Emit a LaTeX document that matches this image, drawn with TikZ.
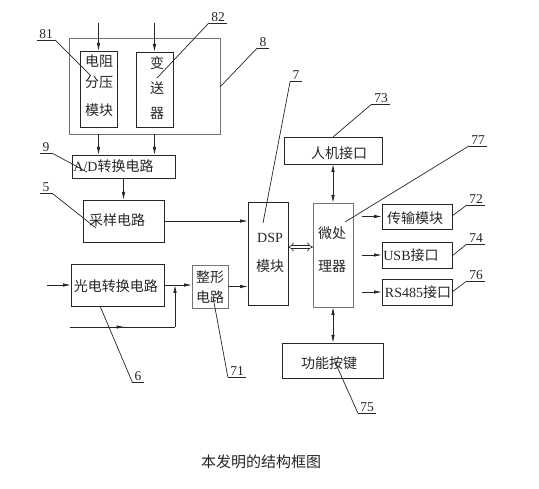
\documentclass[tikz,border=0pt]{standalone}
\usepackage{fontspec}
\setmainfont{Liberation Serif}
\newfontfamily\cjk{Noto Sans CJK SC}
\newfontfamily\lat{Liberation Serif}
\usetikzlibrary{arrows.meta,decorations.markings}
\begin{document}
\begin{tikzpicture}[x=1pt,y=-1pt,line width=0.8pt,color=black!85,
  box/.style={draw,rectangle,inner sep=0pt,outer sep=0pt},
  gbox/.style={box,draw=black!55},
  txt/.style={font=\cjk\fontsize{14}{17}\selectfont,inner sep=0pt,align=center},
  lab/.style={font=\lat\fontsize{13.5}{14}\selectfont,inner xsep=2pt,inner ysep=1pt,anchor=south},
  arr/.style={-{Latex[length=8pt,width=3.5pt]}},
  biarr/.style={{Latex[length=8pt,width=3.5pt]}-{Latex[length=8pt,width=3.5pt]}},
  dbl/.style={double,double distance=2.5pt,line width=0.6pt,{Implies}-{Implies}},
  lead/.style={line width=0.7pt}]
\useasboundingbox (0,0) rectangle (539,489);

% boxes
\node[gbox,minimum width=151pt,minimum height=96pt] (b8) at (144.5,86) {};
\node[box,minimum width=37pt,minimum height=76pt] (b81) at (98.5,89) {};
\node[box,minimum width=37pt,minimum height=75pt] (b82) at (154.5,89.5) {};
\node[box,minimum width=103pt,minimum height=23pt] (ad) at (123.5,166.5) {};
\node[box,minimum width=81pt,minimum height=42pt] (cy) at (123.5,221) {};
\node[box,minimum width=93pt,minimum height=42pt] (gd) at (117.5,285) {};
\node[gbox,minimum width=36pt,minimum height=43pt] (zx) at (210,286.5) {};
\node[box,minimum width=40pt,minimum height=103pt] (dsp) at (268,253.5) {};
\node[gbox,minimum width=40pt,minimum height=104pt] (mcu) at (333,255) {};
\node[box,minimum width=98pt,minimum height=27pt] (hmi) at (333,150.5) {};
\node[box,minimum width=101pt,minimum height=35pt] (key) at (332.5,360.5) {};
\node[box,minimum width=70pt,minimum height=25pt] (tx) at (417,216.5) {};
\node[box,minimum width=70pt,minimum height=26pt] (usb) at (417,255) {};
\node[box,minimum width=70pt,minimum height=26pt] (rs) at (417,292) {};

% texts
\node[txt] (t81) at (99,85.5) {电阻\\[4pt]分压\\[11pt]模块};
\node[txt] (t82) at (157,88) {变\\[8pt]送\\[8pt]器};
\node[txt] (tad) at (113.5,166) {{\lat A/D}转换电路};
\node[txt] (tcy) at (117,220) {采样电路};
\node[txt] (tgd) at (116,286) {光电转换电路};
\node[txt] (tzx) at (210,287) {整形\\[3pt]电路};
\node[txt] (tdsp) at (270,252.5) {{\lat DSP}\\[12pt]模块};
\node[txt] (tmcu) at (332,249.5) {微处\\[16pt]理器};
\node[txt] (thmi) at (339,153) {人机接口};
\node[txt] (tkey) at (329,363) {功能按键};
\node[txt] (ttx) at (415,218) {传输模块};
\node[txt] (tusb) at (411,255) {{\lat USB}接口};
\node[txt] (trs) at (418,292) {{\lat RS485}接口};
\node[font=\cjk\fontsize{15}{17}\selectfont,inner sep=0pt] (cap) at (261,462) {本发明的结构框图};

% connectors
\coordinate (i81) at (98.5,23);
\coordinate (i82) at (154.5,23);
\draw[arr] (i81) -- (b81.north);
\draw[arr] (i82) -- (b82.north);
\draw[arr] (b8.south -| b81) -- (ad.north -| b81);
\draw[arr] (b8.south -| b82) -- (ad.north -| b82);
\draw[arr] (ad.south) -- (cy.north);
\draw[arr] (cy.east) -- (cy.east -| dsp.west);
\coordinate (in6) at (47,285);
\draw[arr] (in6) -- (gd.west);
\draw[arr] (gd.east) -- (gd.east -| zx.west);
\coordinate (in7) at (70,327);
\coordinate (j1) at (175,327);
\draw[postaction={decorate},decoration={markings,mark=at position 0.52 with {\arrow{Latex[length=8pt,width=3.5pt]}}}] (in7) -- (j1);
\draw[arr] (j1) -- (j1 |- gd.east);
\draw[arr] (zx.east) -- (zx.east -| dsp.west);
\draw[dbl] ([yshift=6.5pt]dsp.east) -- ([yshift=6.5pt]dsp.east -| mcu.west);
\draw[biarr] (hmi.south) -- (hmi.south |- mcu.north);
\draw[biarr] (mcu.south) -- (mcu.south |- key.north);
\coordinate (o1) at ([xshift=9pt]mcu.east);
\draw[arr] (o1 |- tx.west) -- (tx.west);
\draw[arr] (o1 |- usb.west) -- (usb.west);
\draw[arr] (o1 |- rs.west) -- (rs.west);

% reference labels
\node[lab] (l81) at (46,40) {81};
\node[lab] (l82) at (218,23) {82};
\node[lab] (l8) at (263,48) {8};
\node[lab] (l9) at (46,153) {9};
\node[lab] (l5) at (46,193) {5};
\node[lab] (l6) at (138,382) {6};
\node[lab] (l71) at (237,377) {71};
\node[lab] (l7) at (296,81) {7};
\node[lab] (l73) at (381,104) {73};
\node[lab] (l77) at (478,146) {77};
\node[lab] (l72) at (476,205) {72};
\node[lab] (l74) at (476,244) {74};
\node[lab] (l76) at (476,281) {76};
\node[lab] (l75) at (367,413) {75};
\foreach \l in {l81,l82,l8,l9,l5,l6,l71,l7,l73,l77,l72,l74,l76,l75}
  \draw[lead] (\l.south west) -- (\l.south east);

\coordinate (c81) at (91,76);
\coordinate (c82) at (157,78);
\coordinate (c8) at (220,87);
\coordinate (c9) at (87,172);
\coordinate (c5) at (96,228);
\coordinate (c6) at (100,306);
\coordinate (c71) at (213,297);
\coordinate (c7) at (263,223);
\coordinate (c73) at (333,137);
\coordinate (c77) at (345,222);
\coordinate (c72) at (452,216);
\coordinate (c74) at (452,256);
\coordinate (c76) at (452,292);
\coordinate (c75) at (335,362);
\draw[lead] (l81.south east) -- (c81);
\draw[lead] (l82.south west) -- (c82);
\draw[lead] (l8.south west) -- (c8);
\draw[lead] (l9.south east) -- (c9);
\draw[lead] (l5.south east) -- (c5);
\draw[lead] (l6.south west) -- (c6);
\draw[lead] (l71.south west) -- (c71);
\draw[lead] (l7.south west) -- (c7);
\draw[lead] (l73.south west) -- (c73);
\draw[lead] (l77.south west) -- (c77);
\draw[lead] (l72.south west) -- (c72);
\draw[lead] (l74.south west) -- (c74);
\draw[lead] (l76.south west) -- (c76);
\draw[lead] (l75.south west) -- (c75);
\end{tikzpicture}
\end{document}
